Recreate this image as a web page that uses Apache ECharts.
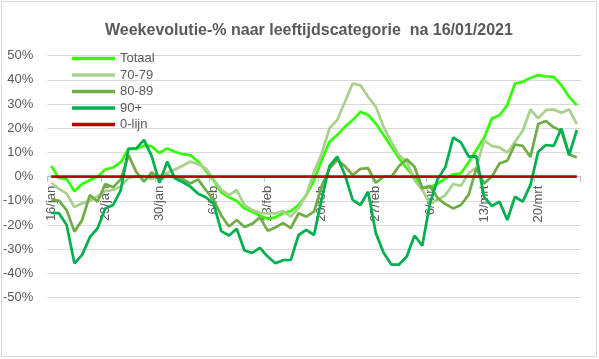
<!DOCTYPE html>
<html>
<head>
<meta charset="utf-8">
<script src="https://cdn.jsdelivr.net/npm/echarts@6/dist/echarts.min.js"></script>
<style>
html,body{margin:0;padding:0;background:#fff;}
#c{width:599px;height:359px;}
</style>
</head>
<body>
<div id="c"></div>
<script>
var categories = [
"16/jan","17/jan","18/jan","19/jan","20/jan","21/jan","22/jan","23/jan","24/jan","25/jan","26/jan","27/jan","28/jan","29/jan","30/jan","31/jan",
"1/feb","2/feb","3/feb","4/feb","5/feb","6/feb","7/feb","8/feb","9/feb","10/feb","11/feb","12/feb","13/feb","14/feb","15/feb","16/feb","17/feb","18/feb","19/feb","20/feb","21/feb","22/feb","23/feb","24/feb","25/feb","26/feb","27/feb","28/feb",
"1/mrt","2/mrt","3/mrt","4/mrt","5/mrt","6/mrt","7/mrt","8/mrt","9/mrt","10/mrt","11/mrt","12/mrt","13/mrt","14/mrt","15/mrt","16/mrt","17/mrt","18/mrt","19/mrt","20/mrt","21/mrt","22/mrt","23/mrt","24/mrt","25/mrt"
];
var totaal = [4.4,-0.5,-1,-6,-3,-1.5,0,3,3.8,6,11.5,11.5,12.8,12.5,9.8,11.7,10.3,9.3,8.9,6.3,2.5,-1.5,-6.5,-8.5,-10,-13,-14.5,-16,-17.5,-16.8,-15.1,-14.2,-11.7,-7.6,-1.5,6.9,14.4,17.2,20.6,23.4,26.8,25.5,22,17.2,12.4,7.6,3.5,0,-4.5,-4.3,-3,-0.7,1,1.4,6,11,16,24,25.4,29.6,38.5,39.2,40.8,42,41.5,41.3,37.8,33,29.6];
var age7079 = [-2.5,-5,-7,-12.5,-11,-10,-8,-6,-5.5,-4,-0.5,0,0.3,-1,0.5,1.5,3,4.5,6.3,5.2,3.4,-1,-5.5,-7.6,-5.5,-11.7,-13.8,-14.8,-15.2,-15.2,-14.2,-16.5,-13,-7.5,2,9.6,20,23.4,31,38.5,37.8,33,28.9,20.6,14.4,8.9,6.2,-1.4,-5.5,-11,-9.6,-7.6,-3,-3.8,1.5,3.8,15,12.7,12.1,9.9,14.4,19,27.8,24.1,27.5,27.8,26.4,27.8,21.7];
var age8089 = [-9.6,-9.9,-13.8,-22.7,-17.9,-7.6,-10.3,-3,-4.4,-1.1,8.9,2,-2,1.8,-1.4,0.5,0,-1,-2.8,-1.1,-5.5,-9.6,-16,-20.6,-17.9,-20.8,-19.5,-16.8,-22.3,-21,-19.2,-21.2,-15.1,-16.5,-14.4,-3.8,3.4,6.9,4.4,0.7,3.2,3.5,-2.5,0,0,4.4,7.2,4.1,-4.8,-3.8,-8.9,-11.3,-13.1,-11.7,-7.5,3.5,-2.8,0,5.5,6.6,13.3,12.7,8.2,21.8,23,20.4,19,9.2,8];
var age90 = [-15,-15.1,-20,-35.8,-32.3,-25,-21.3,-13.1,-11.7,-5.5,11.5,11.7,15.2,8.5,-2.5,6.2,-0.7,-2.2,-4.1,-7,-8.5,-11,-22.5,-24.3,-21.5,-30.5,-31.5,-29.4,-33,-35.8,-34.5,-34.4,-24.1,-22,-24.1,-9,4.4,8.3,0.7,-9.6,-11.7,-6.2,-23.4,-31.4,-36.3,-36.3,-33,-24.3,-28.5,-11,-1,4,16.2,14.2,8.3,8.4,-8.3,-12.1,-10.3,-17.9,-8.3,-10.3,-3.4,10.3,13.1,12.7,19.9,8.9,19.3];
var nulLijn = [0,0,0,0,0,0,0,0,0,0,0,0,0,0,0,0,0,0,0,0,0,0,0,0,0,0,0,0,0,0,0,0,0,0,0,0,0,0,0,0,0,0,0,0,0,0,0,0,0,0,0,0,0,0,0,0,0,0,0,0,0,0,0,0,0,0,0,0,0];
var seriesNames = ["Totaal","70-79","80-89","90+","0-lijn"];
var seriesColors = ["#33ff00","#a9d18e","#70ad47","#00b050","#c00000"];
var title = "Weekevolutie-% naar leeftijdscategorie  na 16/01/2021";

var FONT = "Liberation Sans";
var chart = echarts.init(document.getElementById('c'), null, {renderer:'canvas'});
var dataSets = [totaal, age7079, age8089, age90, nulLijn];
var series = dataSets.map(function(d, k){
  return {
    name: seriesNames[k], type: 'line', data: d, symbol: 'none', showSymbol: false,
    lineStyle: {color: seriesColors[k], width: 2.75},
    itemStyle: {color: seriesColors[k]},
    z: 2 + k
  };
});
var gridTop = 55.7, gridBottom = 61.3;
var plotH = 359 - gridTop - gridBottom;
chart.setOption({
  animation: false,
  backgroundColor: '#fff',
  title: {
    text: title, left: 100, top: 18,
    textStyle: {fontFamily: FONT, fontSize: 16, fontWeight: 'bold', color: '#595959'}
  },
  legend: {
    orient: 'vertical', left: 67, top: 47,
    itemWidth: 43, itemHeight: 3.5, itemGap: 3.5,
    icon: 'rect',
    textStyle: {fontFamily: FONT, fontSize: 13, color: '#595959'},
    data: seriesNames
  },
  graphic: [{
    type: 'rect', shape: {x: 1.5, y: 1.5, width: 595, height: 355},
    style: {fill: 'none', stroke: '#d9d9d9', lineWidth: 1}, silent: true, z: -1
  }],
  grid: {left: 47, right: 18.3, top: gridTop, bottom: gridBottom, containLabel: false},
  xAxis: {
    type: 'category', data: categories, boundaryGap: true,
    offset: -plotH / 2,
    axisLine: {onZero: false, lineStyle: {color: '#bfbfbf', width: 1}},
    axisTick: {show: true, interval: 6, length: 5, lineStyle: {color: '#bfbfbf'}},
    axisLabel: {interval: 6, rotate: 90, margin: 9, fontFamily: FONT, fontSize: 13, color: '#595959'},
    splitLine: {show: false}
  },
  yAxis: {
    type: 'value', min: -50, max: 50, interval: 10,
    axisLine: {show: false}, axisTick: {show: false},
    axisLabel: {formatter: '{value}%', margin: 14, fontFamily: FONT, fontSize: 13, color: '#595959'},
    splitLine: {lineStyle: {color: '#d9d9d9', width: 1}}
  },
  series: series
});
</script>
</body>
</html>
